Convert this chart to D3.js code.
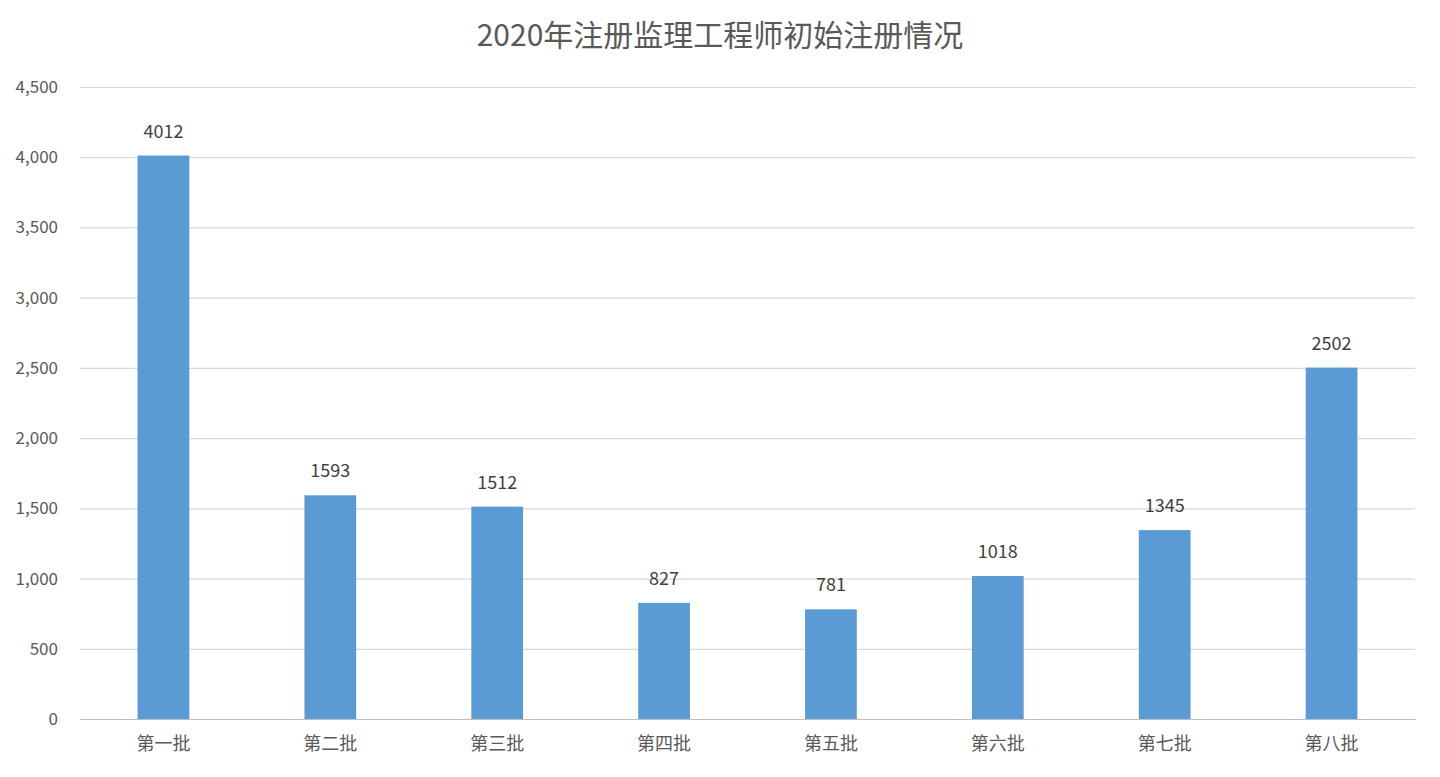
<!DOCTYPE html>
<html><head><meta charset="utf-8">
<script src="https://cdn.jsdelivr.net/npm/d3@7"></script>
<style>body{margin:0;background:#fff}</style></head>
<body><svg id="c" width="1440" height="777"></svg>
<script>
const categories=["第一批","第二批","第三批","第四批","第五批","第六批","第七批","第八批"];
const values=[4012,1593,1512,827,781,1018,1345,2502];
const yTicks=[0,500,1000,1500,2000,2500,3000,3500,4000,4500];
const title="2020年注册监理工程师初始注册情况";
const font="'Noto Sans CJK SC','Microsoft YaHei',sans-serif";
const svg=d3.select("#c");
const L=80,R=1415,T=87,B=719;
const x=d3.scaleBand().domain(categories).range([L,R]).paddingInner(0.69).paddingOuter(0.345);
const y=d3.scaleLinear().domain([0,4500]).range([B,T]);
svg.append("text").attr("x",720).attr("y",46).attr("text-anchor","middle").attr("font-family",font).attr("font-size",30).attr("fill","#595959").text(title);
const ya=svg.append("g").attr("transform",`translate(${L},0)`).call(d3.axisLeft(y).tickValues(yTicks).tickSize(-(R-L)).tickPadding(22));
ya.select(".domain").remove();
ya.selectAll(".tick line").attr("stroke","#d9d9d9").attr("stroke-width",1.2);
ya.selectAll("text").attr("font-family",font).attr("font-size",17).attr("fill","#595959");
const xa=svg.append("g").attr("transform",`translate(0,${B})`).call(d3.axisBottom(x).tickSize(0).tickPadding(18));
xa.select(".domain").attr("stroke","#bfbfbf").attr("stroke-width",1.2);
xa.selectAll("text").attr("font-family",font).attr("font-size",18).attr("fill","#595959");
svg.selectAll("rect.b").data(values).enter().append("rect").attr("class","b")
 .attr("x",(d,i)=>x(categories[i])).attr("width",x.bandwidth())
 .attr("y",d=>y(d)).attr("height",d=>B-y(d)).attr("fill","#5b9bd5");
svg.selectAll("text.v").data(values).enter().append("text").attr("class","v")
 .attr("x",(d,i)=>x(categories[i])+x.bandwidth()/2).attr("y",d=>y(d)-18)
 .attr("text-anchor","middle").attr("font-family",font).attr("font-size",18).attr("fill","#404040").text(d=>d);
</script></body></html>
